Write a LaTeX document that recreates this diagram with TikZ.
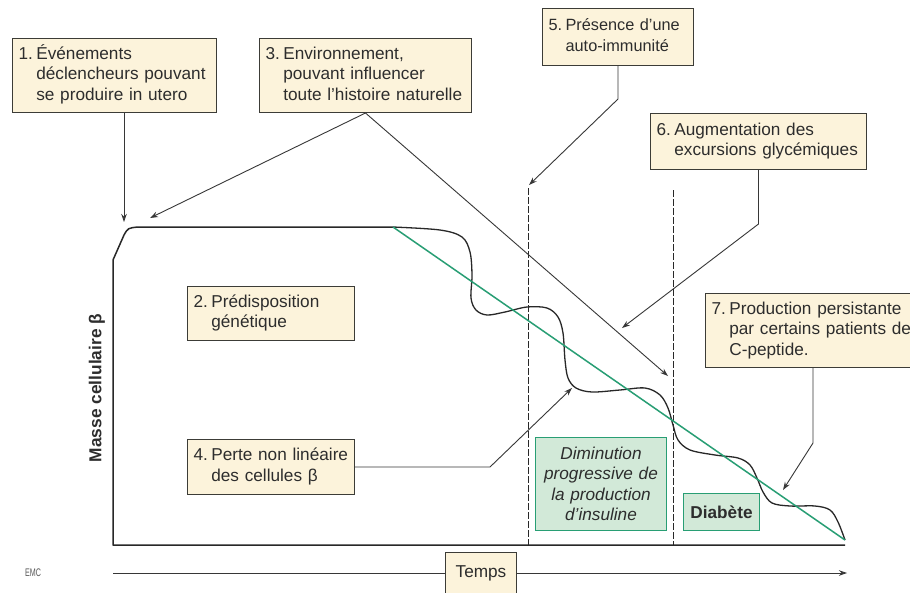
\documentclass[tikz,border=0pt]{standalone}
\usepackage{fontspec}
\setmainfont{Liberation Sans}
\usetikzlibrary{arrows.meta,calc}

\definecolor{boxfill}{RGB}{252,243,219}
\definecolor{boxline}{RGB}{60,60,55}
\definecolor{grnfill}{RGB}{210,233,216}
\definecolor{grnline}{RGB}{40,158,116}
\definecolor{txtcol}{RGB}{45,45,45}
\definecolor{connline}{RGB}{55,55,55}
\definecolor{axiscol}{RGB}{40,40,40}

\newcommand{\lblfont}{\fontsize{17.2}{20.5}\selectfont}
\newcommand{\numlbl}[2]{\begin{tabular}[t]{@{}l@{\hspace{3.5pt}}l@{}}#1&\begin{tabular}[t]{@{}l@{}}#2\end{tabular}\end{tabular}}

\begin{document}
\begin{tikzpicture}[x=1pt,y=-1pt,
  lbl/.style={draw=boxline,fill=boxfill,line width=1pt,anchor=north west,
    inner xsep=6pt,inner ysep=0pt,align=left,font=\lblfont,text=txtcol},
  grnlbl/.style={lbl,draw=grnline,fill=grnfill,align=center},
  conn/.style={draw=connline,line width=0.9pt},
  arr/.style={conn,-{Stealth[length=8pt,width=5.5pt]}},
  stage/.style={draw=axiscol,line width=0.8pt,dash pattern=on 7pt off 2pt},
  mass/.style={draw=axiscol,line width=1.5pt,line join=round}]

\clip (0,0) rectangle (910,592);
\fill[white] (0,0) rectangle (910,592);

% axes and beta cell mass
\coordinate (o) at (113,545);
\coordinate (xend) at (845,545);
\coordinate (ytop) at (113,260);
\coordinate (plat) at (138,227);
\coordinate (drop) at (393,227);

\draw[mass] (xend) -- (o) -- (ytop) -- (124,235) .. controls (128,228) .. (plat) -- (drop);

\coordinate (s1top) at (528,188);
\coordinate (s2top) at (673,190);
\draw[stage] (s1top) -- (s1top |- o);
\draw[stage] (s2top) -- (s2top |- o);

\draw[mass,line width=1.3pt] plot[smooth,tension=0.55] coordinates {
  (393,227) (440,230) (462,237) (470,252) (472,275) (471,298) (476,310) (487,315)
  (505,312) (527,307) (547,308) (558,317) (563,333) (565,360) (568,378) (576,388)
  (592,392) (620,390) (645,388) (660,395) (668,408) (673,425) (678,440) (690,450)
  (715,455) (738,458) (750,465) (757,478) (763,492) (772,503) (790,506) (815,506)
  (830,510) (838,522) (845,540)};

\draw[grnline,line width=1.5pt] (drop) -- (845,540);

% labels
\node[lbl,text width=192pt,minimum height=74pt] (b1) at (12,38)
  {\numlbl{1.}{Événements\\déclencheurs pouvant\\se produire in utero}};
\node[lbl,text width=200pt,minimum height=74pt] (b3) at (259,38)
  {\numlbl{3.}{Environnement,\\pouvant influencer\\toute l'histoire naturelle}};
\node[lbl,text width=139pt,minimum height=57pt,font=\fontsize{16.3}{20.5}\selectfont] (b5) at (542,8)
  {\numlbl{5.}{Présence d'une\\auto-immunité}};
\node[lbl,text width=204pt,minimum height=56pt] (b6) at (650,113)
  {\numlbl{6.}{Augmentation des\\excursions glycémiques}};
\node[lbl,text width=155pt,minimum height=54pt] (b2) at (187,286)
  {\numlbl{2.}{Prédisposition\\génétique}};
\node[lbl,text width=155pt,minimum height=55pt] (b4) at (187,439)
  {\numlbl{4.}{Perte non linéaire\\des cellules β}};
\node[lbl,text width=218pt,minimum height=74pt] (b7) at (705,293)
  {\numlbl{7.}{Production persistante\\par certains patients de\\C-peptide.}};

\node[grnlbl,text width=119pt,minimum height=93pt,font=\lblfont\itshape] (dimin) at (535,437)
  {Diminution\\progressive de\\la production\\d'insuline};
\node[grnlbl,text width=64pt,minimum height=37pt,font=\lblfont\bfseries] (diab) at (683,493)
  {Diabète};

\node[rotate=90,font=\fontsize{17.3}{20}\selectfont\bfseries,text=txtcol] (ylbl) at (97,388)
  {Masse cellulaire β};

% time axis
\coordinate (tstart) at (113,573);
\coordinate (tend) at (847,573);
\node[lbl,align=center,text width=59pt,minimum height=42pt] (temps) at (445,552) {Temps};
\draw[conn] (tstart) -- (temps.west |- tstart);
\draw[arr] (temps.east |- tstart) -- (tend);

\node[font=\fontsize{11}{11}\selectfont,text=txtcol!80,inner sep=0pt,xscale=0.65] (emc) at (33,573) {EMC};

% arrows
\coordinate (t1) at (124,222);
\coordinate (t3a) at (150,218);
\coordinate (t3b) at (668,376);
\coordinate (t5) at (529,185);
\coordinate (t6) at (622,328);
\coordinate (k4) at (490,467);
\coordinate (t4) at (572,388);
\coordinate (k7) at (813,443);
\coordinate (t7) at (783,490);

\draw[arr] (b1.south -| t1) -- (t1);
\draw[arr] (b3.south) -- (t3a);
\draw[arr] (b3.south) -- (t3b);
\draw[arr] (b5.south) -- ++(0,33) -- (t5);
\draw[arr] (b6.south) -- ++(0,54) -- (t6);
\draw[arr] (b4.east) -- (k4) -- (t4);
\draw[arr] (b7.south -| k7) -- (k7) -- (t7);

\end{tikzpicture}
\end{document}
